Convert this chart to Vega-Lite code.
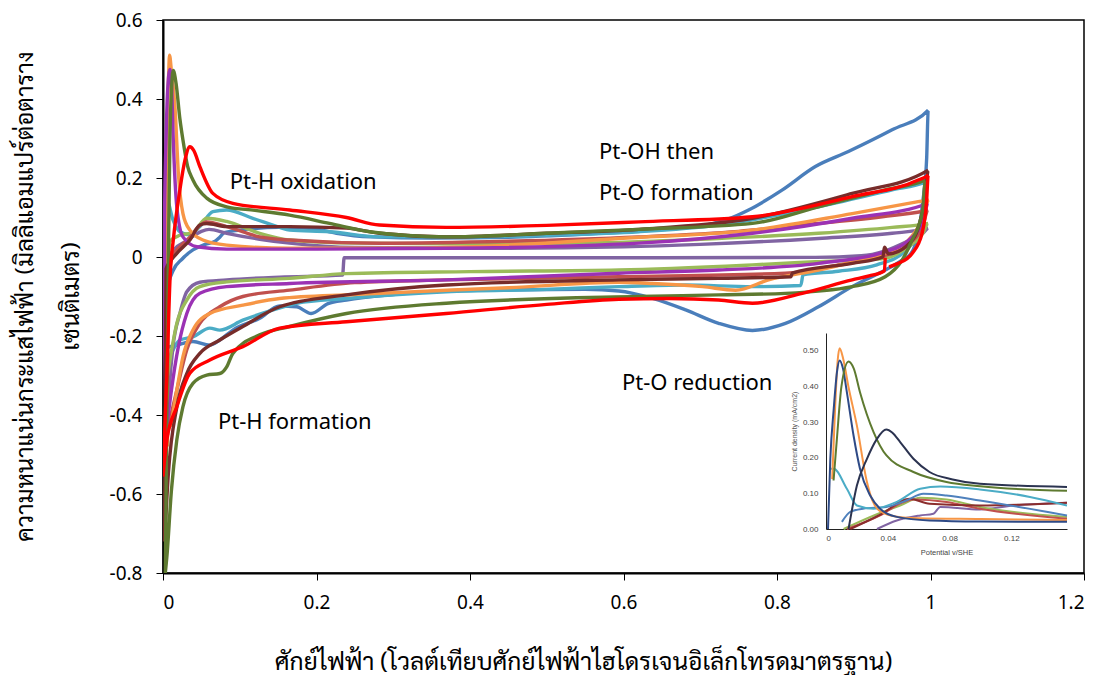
{
  "$schema": "https://vega.github.io/schema/vega-lite/v6.json",
  "width": 921,
  "height": 553,
  "autosize": {"type": "none"},
  "padding": {"left": 163, "top": 20, "right": 21, "bottom": 102},
  "background": "white",
  "config": {"view": {"stroke": "black", "strokeWidth": 1.5}, "axis": {"grid": false}},
  "datasets": {
    "main": [
      {"s":"blue","x":0.0,"y":-0.23},{"s":"blue","x":0.002,"y":-0.15},{"s":"blue","x":0.006,"y":-0.08},{"s":"blue","x":0.013,"y":-0.035},{"s":"blue","x":0.025,"y":-0.005},{"s":"blue","x":0.039,"y":0.018},{"s":"blue","x":0.055,"y":0.032},{"s":"blue","x":0.068,"y":0.04},{"s":"blue","x":0.074,"y":0.05},{"s":"blue","x":0.08,"y":0.062},{"s":"blue","x":0.1,"y":0.068},{"s":"blue","x":0.152,"y":0.075},{"s":"blue","x":0.195,"y":0.072},{"s":"blue","x":0.226,"y":0.06},{"s":"blue","x":0.27,"y":0.051},{"s":"blue","x":0.35,"y":0.048},{"s":"blue","x":0.45,"y":0.05},{"s":"blue","x":0.55,"y":0.058},{"s":"blue","x":0.62,"y":0.066},{"s":"blue","x":0.7,"y":0.078},{"s":"blue","x":0.735,"y":0.095},{"s":"blue","x":0.763,"y":0.119},{"s":"blue","x":0.807,"y":0.17},{"s":"blue","x":0.85,"y":0.229},{"s":"blue","x":0.893,"y":0.267},{"s":"blue","x":0.95,"y":0.322},{"s":"blue","x":0.997,"y":0.372},{"s":"blue","x":0.995,"y":0.25},{"s":"blue","x":0.99,"y":0.14},{"s":"blue","x":0.984,"y":0.06},{"s":"blue","x":0.975,"y":0.01},{"s":"blue","x":0.96,"y":-0.012},{"s":"blue","x":0.941,"y":-0.033},{"s":"blue","x":0.898,"y":-0.075},{"s":"blue","x":0.854,"y":-0.126},{"s":"blue","x":0.811,"y":-0.168},{"s":"blue","x":0.768,"y":-0.186},{"s":"blue","x":0.724,"y":-0.168},{"s":"blue","x":0.681,"y":-0.134},{"s":"blue","x":0.638,"y":-0.105},{"s":"blue","x":0.594,"y":-0.086},{"s":"blue","x":0.55,"y":-0.082},{"s":"blue","x":0.45,"y":-0.083},{"s":"blue","x":0.369,"y":-0.085},{"s":"blue","x":0.3,"y":-0.095},{"s":"blue","x":0.239,"y":-0.109},{"s":"blue","x":0.215,"y":-0.118},{"s":"blue","x":0.193,"y":-0.143},{"s":"blue","x":0.174,"y":-0.126},{"s":"blue","x":0.152,"y":-0.124},{"s":"blue","x":0.126,"y":-0.155},{"s":"blue","x":0.091,"y":-0.185},{"s":"blue","x":0.074,"y":-0.21},{"s":"blue","x":0.061,"y":-0.223},{"s":"blue","x":0.039,"y":-0.214},{"s":"blue","x":0.018,"y":-0.223},{"s":"blue","x":0.0,"y":-0.231},

      {"s":"cyan","x":0.004,"y":-0.28},{"s":"cyan","x":0.002,"y":-0.05},{"s":"cyan","x":0.003,"y":0.1},{"s":"cyan","x":0.005,"y":0.144},{"s":"cyan","x":0.013,"y":0.094},{"s":"cyan","x":0.022,"y":0.064},{"s":"cyan","x":0.035,"y":0.056},{"s":"cyan","x":0.048,"y":0.077},{"s":"cyan","x":0.065,"y":0.115},{"s":"cyan","x":0.083,"y":0.119},{"s":"cyan","x":0.117,"y":0.098},{"s":"cyan","x":0.152,"y":0.075},{"s":"cyan","x":0.165,"y":0.068},{"s":"cyan","x":0.217,"y":0.064},{"s":"cyan","x":0.282,"y":0.051},{"s":"cyan","x":0.412,"y":0.051},{"s":"cyan","x":0.5,"y":0.055},{"s":"cyan","x":0.62,"y":0.064},{"s":"cyan","x":0.724,"y":0.081},{"s":"cyan","x":0.854,"y":0.127},{"s":"cyan","x":0.95,"y":0.17},{"s":"cyan","x":0.993,"y":0.19},{"s":"cyan","x":0.99,"y":0.1},{"s":"cyan","x":0.97,"y":0.02},{"s":"cyan","x":0.93,"y":-0.02},{"s":"cyan","x":0.88,"y":-0.036},{"s":"cyan","x":0.834,"y":-0.045},{"s":"cyan","x":0.831,"y":-0.072},{"s":"cyan","x":0.768,"y":-0.075},{"s":"cyan","x":0.681,"y":-0.071},{"s":"cyan","x":0.594,"y":-0.075},{"s":"cyan","x":0.5,"y":-0.082},{"s":"cyan","x":0.369,"y":-0.088},{"s":"cyan","x":0.239,"y":-0.105},{"s":"cyan","x":0.174,"y":-0.117},{"s":"cyan","x":0.165,"y":-0.122},{"s":"cyan","x":0.104,"y":-0.16},{"s":"cyan","x":0.074,"y":-0.185},{"s":"cyan","x":0.061,"y":-0.18},{"s":"cyan","x":0.039,"y":-0.202},{"s":"cyan","x":0.022,"y":-0.21},{"s":"cyan","x":0.012,"y":-0.24},{"s":"cyan","x":0.006,"y":-0.27},

      {"s":"lavender","x":0.006,"y":-0.4},{"s":"lavender","x":0.005,"y":-0.1},{"s":"lavender","x":0.008,"y":0.0},{"s":"lavender","x":0.015,"y":0.02},{"s":"lavender","x":0.03,"y":0.04},{"s":"lavender","x":0.05,"y":0.065},{"s":"lavender","x":0.06,"y":0.07},{"s":"lavender","x":0.083,"y":0.06},{"s":"lavender","x":0.126,"y":0.045},{"s":"lavender","x":0.165,"y":0.035},{"s":"lavender","x":0.25,"y":0.024},{"s":"lavender","x":0.4,"y":0.022},{"s":"lavender","x":0.6,"y":0.026},{"s":"lavender","x":0.7,"y":0.032},{"s":"lavender","x":0.854,"y":0.047},{"s":"lavender","x":0.95,"y":0.06},{"s":"lavender","x":0.997,"y":0.073},{"s":"lavender","x":0.99,"y":0.06},{"s":"lavender","x":0.97,"y":0.04},{"s":"lavender","x":0.94,"y":0.015},{"s":"lavender","x":0.91,"y":0.003},{"s":"lavender","x":0.85,"y":-0.001},{"s":"lavender","x":0.5,"y":-0.002},{"s":"lavender","x":0.236,"y":-0.002},{"s":"lavender","x":0.234,"y":-0.046},{"s":"lavender","x":0.152,"y":-0.051},{"s":"lavender","x":0.083,"y":-0.058},{"s":"lavender","x":0.048,"y":-0.064},{"s":"lavender","x":0.031,"y":-0.088},{"s":"lavender","x":0.022,"y":-0.143},{"s":"lavender","x":0.013,"y":-0.227},{"s":"lavender","x":0.008,"y":-0.337},{"s":"lavender","x":0.006,"y":-0.4},

      {"s":"lightgreen","x":0.006,"y":-0.3},{"s":"lightgreen","x":0.005,"y":-0.05},{"s":"lightgreen","x":0.009,"y":0.04},{"s":"lightgreen","x":0.022,"y":0.055},{"s":"lightgreen","x":0.039,"y":0.062},{"s":"lightgreen","x":0.057,"y":0.098},{"s":"lightgreen","x":0.083,"y":0.09},{"s":"lightgreen","x":0.126,"y":0.06},{"s":"lightgreen","x":0.165,"y":0.043},{"s":"lightgreen","x":0.25,"y":0.035},{"s":"lightgreen","x":0.4,"y":0.033},{"s":"lightgreen","x":0.594,"y":0.037},{"s":"lightgreen","x":0.7,"y":0.045},{"s":"lightgreen","x":0.854,"y":0.06},{"s":"lightgreen","x":0.95,"y":0.075},{"s":"lightgreen","x":0.997,"y":0.085},{"s":"lightgreen","x":0.99,"y":0.06},{"s":"lightgreen","x":0.97,"y":0.025},{"s":"lightgreen","x":0.941,"y":-0.003},{"s":"lightgreen","x":0.85,"y":-0.012},{"s":"lightgreen","x":0.768,"y":-0.02},{"s":"lightgreen","x":0.594,"y":-0.033},{"s":"lightgreen","x":0.4,"y":-0.037},{"s":"lightgreen","x":0.239,"y":-0.042},{"s":"lightgreen","x":0.165,"y":-0.054},{"s":"lightgreen","x":0.083,"y":-0.063},{"s":"lightgreen","x":0.048,"y":-0.075},{"s":"lightgreen","x":0.031,"y":-0.109},{"s":"lightgreen","x":0.018,"y":-0.168},{"s":"lightgreen","x":0.01,"y":-0.25},{"s":"lightgreen","x":0.006,"y":-0.3},

      {"s":"redbrown","x":0.006,"y":-0.45},{"s":"redbrown","x":0.006,"y":-0.1},{"s":"redbrown","x":0.012,"y":0.0},{"s":"redbrown","x":0.022,"y":0.026},{"s":"redbrown","x":0.035,"y":0.05},{"s":"redbrown","x":0.048,"y":0.08},{"s":"redbrown","x":0.057,"y":0.089},{"s":"redbrown","x":0.083,"y":0.077},{"s":"redbrown","x":0.126,"y":0.051},{"s":"redbrown","x":0.165,"y":0.043},{"s":"redbrown","x":0.282,"y":0.035},{"s":"redbrown","x":0.45,"y":0.04},{"s":"redbrown","x":0.62,"y":0.051},{"s":"redbrown","x":0.75,"y":0.065},{"s":"redbrown","x":0.854,"y":0.085},{"s":"redbrown","x":0.95,"y":0.105},{"s":"redbrown","x":0.997,"y":0.119},{"s":"redbrown","x":0.99,"y":0.08},{"s":"redbrown","x":0.97,"y":0.03},{"s":"redbrown","x":0.941,"y":0.004},{"s":"redbrown","x":0.88,"y":-0.02},{"s":"redbrown","x":0.811,"y":-0.041},{"s":"redbrown","x":0.594,"y":-0.05},{"s":"redbrown","x":0.369,"y":-0.058},{"s":"redbrown","x":0.25,"y":-0.065},{"s":"redbrown","x":0.165,"y":-0.084},{"s":"redbrown","x":0.104,"y":-0.1},{"s":"redbrown","x":0.074,"y":-0.126},{"s":"redbrown","x":0.048,"y":-0.168},{"s":"redbrown","x":0.031,"y":-0.235},{"s":"redbrown","x":0.018,"y":-0.337},{"s":"redbrown","x":0.008,"y":-0.42},

      {"s":"orange","x":0.006,"y":-0.48},{"s":"orange","x":0.005,"y":-0.2},{"s":"orange","x":0.005,"y":0.15},{"s":"orange","x":0.006,"y":0.35},{"s":"orange","x":0.0075,"y":0.47},{"s":"orange","x":0.0085,"y":0.511},{"s":"orange","x":0.011,"y":0.47},{"s":"orange","x":0.0156,"y":0.38},{"s":"orange","x":0.02,"y":0.212},{"s":"orange","x":0.026,"y":0.11},{"s":"orange","x":0.035,"y":0.068},{"s":"orange","x":0.052,"y":0.043},{"s":"orange","x":0.083,"y":0.03},{"s":"orange","x":0.165,"y":0.022},{"s":"orange","x":0.3,"y":0.022},{"s":"orange","x":0.45,"y":0.03},{"s":"orange","x":0.594,"y":0.047},{"s":"orange","x":0.768,"y":0.068},{"s":"orange","x":0.898,"y":0.11},{"s":"orange","x":0.984,"y":0.14},{"s":"orange","x":0.998,"y":0.145},{"s":"orange","x":0.99,"y":0.1},{"s":"orange","x":0.97,"y":0.04},{"s":"orange","x":0.941,"y":0.01},{"s":"orange","x":0.9,"y":-0.012},{"s":"orange","x":0.854,"y":-0.033},{"s":"orange","x":0.789,"y":-0.058},{"s":"orange","x":0.746,"y":-0.084},{"s":"orange","x":0.703,"y":-0.075},{"s":"orange","x":0.638,"y":-0.067},{"s":"orange","x":0.594,"y":-0.064},{"s":"orange","x":0.45,"y":-0.078},{"s":"orange","x":0.369,"y":-0.084},{"s":"orange","x":0.25,"y":-0.095},{"s":"orange","x":0.152,"y":-0.105},{"s":"orange","x":0.104,"y":-0.122},{"s":"orange","x":0.061,"y":-0.143},{"s":"orange","x":0.039,"y":-0.185},{"s":"orange","x":0.026,"y":-0.252},{"s":"orange","x":0.018,"y":-0.337},{"s":"orange","x":0.01,"y":-0.43},

      {"s":"magenta","x":0.005,"y":-0.43},{"s":"magenta","x":0.002,"y":-0.2},{"s":"magenta","x":0.002,"y":0.1},{"s":"magenta","x":0.004,"y":0.3},{"s":"magenta","x":0.006,"y":0.42},{"s":"magenta","x":0.009,"y":0.475},{"s":"magenta","x":0.011,"y":0.44},{"s":"magenta","x":0.0134,"y":0.296},{"s":"magenta","x":0.018,"y":0.127},{"s":"magenta","x":0.026,"y":0.051},{"s":"magenta","x":0.044,"y":0.026},{"s":"magenta","x":0.083,"y":0.02},{"s":"magenta","x":0.165,"y":0.02},{"s":"magenta","x":0.369,"y":0.022},{"s":"magenta","x":0.62,"y":0.035},{"s":"magenta","x":0.768,"y":0.06},{"s":"magenta","x":0.898,"y":0.098},{"s":"magenta","x":0.997,"y":0.136},{"s":"magenta","x":0.99,"y":0.09},{"s":"magenta","x":0.97,"y":0.04},{"s":"magenta","x":0.941,"y":0.013},{"s":"magenta","x":0.854,"y":-0.016},{"s":"magenta","x":0.724,"y":-0.033},{"s":"magenta","x":0.594,"y":-0.041},{"s":"magenta","x":0.369,"y":-0.058},{"s":"magenta","x":0.165,"y":-0.067},{"s":"magenta","x":0.083,"y":-0.075},{"s":"magenta","x":0.048,"y":-0.092},{"s":"magenta","x":0.031,"y":-0.143},{"s":"magenta","x":0.02,"y":-0.227},{"s":"magenta","x":0.011,"y":-0.337},{"s":"magenta","x":0.005,"y":-0.43},

      {"s":"darkbrown","x":0.002,"y":-0.72},{"s":"darkbrown","x":0.003,"y":-0.3},{"s":"darkbrown","x":0.004,"y":-0.03},{"s":"darkbrown","x":0.018,"y":0.009},{"s":"darkbrown","x":0.035,"y":0.043},{"s":"darkbrown","x":0.048,"y":0.081},{"s":"darkbrown","x":0.057,"y":0.085},{"s":"darkbrown","x":0.083,"y":0.077},{"s":"darkbrown","x":0.165,"y":0.077},{"s":"darkbrown","x":0.239,"y":0.073},{"s":"darkbrown","x":0.282,"y":0.06},{"s":"darkbrown","x":0.369,"y":0.051},{"s":"darkbrown","x":0.5,"y":0.06},{"s":"darkbrown","x":0.62,"y":0.07},{"s":"darkbrown","x":0.768,"y":0.098},{"s":"darkbrown","x":0.898,"y":0.161},{"s":"darkbrown","x":0.997,"y":0.22},{"s":"darkbrown","x":0.993,"y":0.15},{"s":"darkbrown","x":0.985,"y":0.08},{"s":"darkbrown","x":0.97,"y":0.03},{"s":"darkbrown","x":0.945,"y":0.008},{"s":"darkbrown","x":0.94,"y":0.025},{"s":"darkbrown","x":0.938,"y":0.0},{"s":"darkbrown","x":0.898,"y":-0.016},{"s":"darkbrown","x":0.82,"y":-0.041},{"s":"darkbrown","x":0.818,"y":-0.05},{"s":"darkbrown","x":0.724,"y":-0.054},{"s":"darkbrown","x":0.594,"y":-0.058},{"s":"darkbrown","x":0.369,"y":-0.071},{"s":"darkbrown","x":0.239,"y":-0.096},{"s":"darkbrown","x":0.152,"y":-0.126},{"s":"darkbrown","x":0.104,"y":-0.176},{"s":"darkbrown","x":0.074,"y":-0.21},{"s":"darkbrown","x":0.048,"y":-0.244},{"s":"darkbrown","x":0.031,"y":-0.295},{"s":"darkbrown","x":0.018,"y":-0.38},{"s":"darkbrown","x":0.007,"y":-0.548},{"s":"darkbrown","x":0.002,"y":-0.72},

      {"s":"green","x":0.003,"y":-0.8},{"s":"green","x":0.005,"y":-0.4},{"s":"green","x":0.007,"y":0.0},{"s":"green","x":0.009,"y":0.3},{"s":"green","x":0.011,"y":0.42},{"s":"green","x":0.0134,"y":0.472},{"s":"green","x":0.017,"y":0.44},{"s":"green","x":0.022,"y":0.35},{"s":"green","x":0.026,"y":0.296},{"s":"green","x":0.032,"y":0.23},{"s":"green","x":0.039,"y":0.195},{"s":"green","x":0.057,"y":0.149},{"s":"green","x":0.083,"y":0.127},{"s":"green","x":0.12,"y":0.118},{"s":"green","x":0.165,"y":0.106},{"s":"green","x":0.217,"y":0.085},{"s":"green","x":0.269,"y":0.064},{"s":"green","x":0.369,"y":0.051},{"s":"green","x":0.499,"y":0.06},{"s":"green","x":0.62,"y":0.07},{"s":"green","x":0.768,"y":0.085},{"s":"green","x":0.854,"y":0.127},{"s":"green","x":0.941,"y":0.17},{"s":"green","x":0.993,"y":0.195},{"s":"green","x":0.99,"y":0.12},{"s":"green","x":0.976,"y":0.043},{"s":"green","x":0.963,"y":-0.008},{"s":"green","x":0.941,"y":-0.05},{"s":"green","x":0.898,"y":-0.075},{"s":"green","x":0.811,"y":-0.092},{"s":"green","x":0.724,"y":-0.096},{"s":"green","x":0.62,"y":-0.1},{"s":"green","x":0.369,"y":-0.117},{"s":"green","x":0.239,"y":-0.143},{"s":"green","x":0.165,"y":-0.176},{"s":"green","x":0.126,"y":-0.197},{"s":"green","x":0.091,"y":-0.244},{"s":"green","x":0.083,"y":-0.278},{"s":"green","x":0.074,"y":-0.295},{"s":"green","x":0.057,"y":-0.299},{"s":"green","x":0.039,"y":-0.32},{"s":"green","x":0.026,"y":-0.379},{"s":"green","x":0.018,"y":-0.463},{"s":"green","x":0.011,"y":-0.59},{"s":"green","x":0.005,"y":-0.76},{"s":"green","x":0.003,"y":-0.8},

      {"s":"red","x":0.0,"y":-0.556},{"s":"red","x":0.005,"y":-0.3},{"s":"red","x":0.0095,"y":-0.04},{"s":"red","x":0.0134,"y":0.043},{"s":"red","x":0.022,"y":0.17},{"s":"red","x":0.0286,"y":0.245},{"s":"red","x":0.035,"y":0.279},{"s":"red","x":0.04,"y":0.27},{"s":"red","x":0.048,"y":0.229},{"s":"red","x":0.065,"y":0.161},{"s":"red","x":0.091,"y":0.136},{"s":"red","x":0.165,"y":0.119},{"s":"red","x":0.239,"y":0.1},{"s":"red","x":0.282,"y":0.081},{"s":"red","x":0.369,"y":0.075},{"s":"red","x":0.5,"y":0.08},{"s":"red","x":0.62,"y":0.089},{"s":"red","x":0.768,"y":0.102},{"s":"red","x":0.898,"y":0.153},{"s":"red","x":0.984,"y":0.195},{"s":"red","x":0.997,"y":0.208},{"s":"red","x":0.995,"y":0.144},{"s":"red","x":0.989,"y":0.06},{"s":"red","x":0.976,"y":0.009},{"s":"red","x":0.958,"y":-0.016},{"s":"red","x":0.946,"y":-0.025},{"s":"red","x":0.944,"y":null},{"s":"red","x":0.941,"y":-0.002},{"s":"red","x":0.94,"y":-0.035},{"s":"red","x":0.92,"y":-0.048},{"s":"red","x":0.898,"y":-0.058},{"s":"red","x":0.833,"y":-0.092},{"s":"red","x":0.768,"y":-0.117},{"s":"red","x":0.724,"y":-0.109},{"s":"red","x":0.659,"y":-0.105},{"s":"red","x":0.594,"y":-0.107},{"s":"red","x":0.5,"y":-0.12},{"s":"red","x":0.369,"y":-0.143},{"s":"red","x":0.239,"y":-0.164},{"s":"red","x":0.152,"y":-0.18},{"s":"red","x":0.104,"y":-0.227},{"s":"red","x":0.061,"y":-0.261},{"s":"red","x":0.035,"y":-0.294},{"s":"red","x":0.018,"y":-0.379},{"s":"red","x":0.005,"y":-0.463},{"s":"red","x":0.0,"y":-0.556}
    ],
    "notes": [
      {"t":"Pt-H oxidation","x":0.087,"y":0.19},
      {"t":"Pt-OH then","x":0.568,"y":0.266},
      {"t":"Pt-O formation","x":0.568,"y":0.162},
      {"t":"Pt-O reduction","x":0.598,"y":-0.319},
      {"t":"Pt-H formation","x":0.0715,"y":-0.418}
    ],
    "inset": [
      {"s":"lavender","x":0.033,"y":0.0},{"s":"lavender","x":0.0458,"y":0.024},{"s":"lavender","x":0.061,"y":0.038},{"s":"lavender","x":0.0695,"y":0.043},{"s":"lavender","x":0.074,"y":0.062},{"s":"lavender","x":0.0996,"y":0.055},{"s":"lavender","x":0.121,"y":0.066},{"s":"lavender","x":0.156,"y":0.074},
      {"s":"lgreen","x":0.0114,"y":0.0},{"s":"lgreen","x":0.031,"y":0.038},{"s":"lgreen","x":0.048,"y":0.066},{"s":"lgreen","x":0.061,"y":0.088},{"s":"lgreen","x":0.078,"y":0.083},{"s":"lgreen","x":0.0996,"y":0.062},{"s":"lgreen","x":0.156,"y":0.034},
      {"s":"redbrown","x":0.0135,"y":0.0},{"s":"redbrown","x":0.035,"y":0.038},{"s":"redbrown","x":0.048,"y":0.071},{"s":"redbrown","x":0.0566,"y":0.083},{"s":"redbrown","x":0.078,"y":0.076},{"s":"redbrown","x":0.0996,"y":0.057},{"s":"redbrown","x":0.156,"y":0.029},
      {"s":"darkred","x":0.0157,"y":0.0},{"s":"darkred","x":0.035,"y":0.04},{"s":"darkred","x":0.054,"y":0.085},{"s":"darkred","x":0.067,"y":0.071},{"s":"darkred","x":0.0996,"y":0.066},{"s":"darkred","x":0.156,"y":0.074},
      {"s":"blue","x":0.0103,"y":0.02},{"s":"blue","x":0.0157,"y":0.048},{"s":"blue","x":0.024,"y":0.057},{"s":"blue","x":0.039,"y":0.062},{"s":"blue","x":0.052,"y":0.08},{"s":"blue","x":0.063,"y":0.099},{"s":"blue","x":0.078,"y":0.094},{"s":"blue","x":0.0996,"y":0.08},{"s":"blue","x":0.156,"y":0.038},
      {"s":"teal","x":0.0024,"y":0.169},{"s":"teal","x":0.005,"y":0.169},{"s":"teal","x":0.0135,"y":0.113},{"s":"teal","x":0.02,"y":0.066},{"s":"teal","x":0.0308,"y":0.057},{"s":"teal","x":0.0458,"y":0.076},{"s":"teal","x":0.061,"y":0.113},{"s":"teal","x":0.074,"y":0.119},{"s":"teal","x":0.0996,"y":0.111},{"s":"teal","x":0.132,"y":0.09},{"s":"teal","x":0.156,"y":0.066},
      {"s":"orange","x":0.004,"y":0.14},{"s":"orange","x":0.006,"y":0.35},{"s":"orange","x":0.0075,"y":0.47},{"s":"orange","x":0.0088,"y":0.507},{"s":"orange","x":0.011,"y":0.48},{"s":"orange","x":0.0145,"y":0.4},{"s":"orange","x":0.02,"y":0.29},{"s":"orange","x":0.0265,"y":0.132},{"s":"orange","x":0.03,"y":0.08},{"s":"orange","x":0.035,"y":0.05},{"s":"orange","x":0.045,"y":0.035},{"s":"orange","x":0.06,"y":0.03},{"s":"orange","x":0.1,"y":0.028},{"s":"orange","x":0.156,"y":0.025},
      {"s":"navy","x":0.0013,"y":0.0},{"s":"navy","x":0.0028,"y":0.197},{"s":"navy","x":0.005,"y":0.337},{"s":"navy","x":0.0071,"y":0.44},{"s":"navy","x":0.0088,"y":0.473},{"s":"navy","x":0.011,"y":0.45},{"s":"navy","x":0.0135,"y":0.384},{"s":"navy","x":0.0178,"y":0.263},{"s":"navy","x":0.022,"y":0.169},{"s":"navy","x":0.0286,"y":0.094},{"s":"navy","x":0.035,"y":0.057},{"s":"navy","x":0.0458,"y":0.034},{"s":"navy","x":0.067,"y":0.024},{"s":"navy","x":0.1,"y":0.021},{"s":"navy","x":0.156,"y":0.02},
      {"s":"green","x":0.0049,"y":0.136},{"s":"green","x":0.007,"y":0.25},{"s":"green","x":0.01,"y":0.4},{"s":"green","x":0.0146,"y":0.47},{"s":"green","x":0.018,"y":0.45},{"s":"green","x":0.022,"y":0.384},{"s":"green","x":0.0308,"y":0.272},{"s":"green","x":0.039,"y":0.207},{"s":"green","x":0.0566,"y":0.16},{"s":"green","x":0.078,"y":0.132},{"s":"green","x":0.1,"y":0.12},{"s":"green","x":0.156,"y":0.107},
      {"s":"dark","x":0.0146,"y":0.0},{"s":"dark","x":0.02,"y":0.122},{"s":"dark","x":0.0265,"y":0.197},{"s":"dark","x":0.033,"y":0.253},{"s":"dark","x":0.039,"y":0.279},{"s":"dark","x":0.043,"y":0.27},{"s":"dark","x":0.048,"y":0.244},{"s":"dark","x":0.0566,"y":0.197},{"s":"dark","x":0.067,"y":0.16},{"s":"dark","x":0.082,"y":0.139},{"s":"dark","x":0.0996,"y":0.127},{"s":"dark","x":0.156,"y":0.118}
    ]
  },
  "layer": [
    {
      "layer": [
        {
          "data": {"name": "main"},
          "mark": {"type": "line", "strokeWidth": 3.4, "interpolate": "monotone", "clip": true},
          "encoding": {
            "x": {"field": "x", "type": "quantitative",
              "scale": {"domain": [0, 1.2], "nice": false, "zero": false},
              "axis": {"values": [0, 0.2, 0.4, 0.6, 0.8, 1, 1.2], "format": "~g", "labelFont": "Noto Sans", "labelFontSize": 19, "labelColor": "black", "labelPadding": 13, "tickSize": 7, "tickColor": "black", "domainColor": "black", "domainWidth": 2, "title": "ศักย์ไฟฟ้า (โวลต์เทียบศักย์ไฟฟ้าไฮโดรเจนอิเล็กโทรดมาตรฐาน)", "titleFont": "Laksaman, Kinnari, Norasi, Sarabun, Garuda, Loma, sans-serif", "titleFontSize": 24.5, "titleFontWeight": "normal", "titleColor": "black", "titleX": 420, "titleY": 96, "titleAlign": "center", "titleBaseline": "alphabetic"}},
            "y": {"field": "y", "type": "quantitative",
              "scale": {"domain": [-0.8, 0.6], "nice": false, "zero": false},
              "axis": {"values": [-0.8, -0.6, -0.4, -0.2, 0, 0.2, 0.4, 0.6], "labelExpr": "datum.value == 0 ? '0' : (datum.value < 0 ? '-' + format(-datum.value, '.1f') : format(datum.value, '.1f'))", "labelFont": "Noto Sans", "labelFontSize": 19, "labelColor": "black", "labelPadding": 14, "tickSize": 7, "tickColor": "black", "domainColor": "black", "domainWidth": 2, "title": ["ความหนาแน่นกระแสไฟฟ้า (มิลลิแอมแปร์ต่อตาราง", "เซนติเมตร)"], "titleFont": "Laksaman, Kinnari, Norasi, Sarabun, Garuda, Loma, sans-serif", "titleFontSize": 24, "titleFontWeight": "normal", "titleColor": "black", "titleAngle": -90, "titleX": -150, "titleY": 276, "titleAlign": "center", "titleBaseline": "top", "titleLineHeight": 46}},
            "color": {"field": "s", "type": "nominal", "legend": null,
              "scale": {"domain": ["blue", "cyan", "lavender", "lightgreen", "redbrown", "orange", "magenta", "darkbrown", "green", "red"],
                        "range": ["#4A7EBB", "#4BACC6", "#8064A2", "#9BBB59", "#C0504D", "#F79646", "#9B32B4", "#772C2A", "#5E7A30", "#FF0000"]}},
            "order": {"value": null}
          }
        },
        {
          "data": {"name": "notes"},
          "mark": {"type": "text", "align": "left", "baseline": "middle", "font": "Noto Sans", "fontSize": 22, "color": "black"},
          "encoding": {
            "x": {"field": "x", "type": "quantitative"},
            "y": {"field": "y", "type": "quantitative"},
            "text": {"field": "t"}
          }
        }
      ]
    },
    {
      "layer": [
        {
          "mark": {"type": "rect", "fill": "white", "stroke": "#222", "strokeWidth": 1},
          "encoding": {
            "x": {"datum": 0, "type": "quantitative",
              "scale": {"domain": [0, 0.156], "range": [663, 904], "nice": false, "zero": false},
              "axis": {"orient": "bottom", "offset": -44, "values": [0, 0.04, 0.08, 0.12], "labelExpr": "datum.value == 0 ? '0' : format(datum.value, '.2f')", "labelFont": "Liberation Sans", "labelFontSize": 8, "labelColor": "#444", "ticks": false, "labelPadding": 5, "domainColor": "#222", "domainWidth": 1, "title": "Potential v/SHE", "titleFont": "Liberation Sans", "titleFontSize": 7.5, "titleFontWeight": "normal", "titleColor": "#444", "titlePadding": 6}},
            "x2": {"datum": 0.156},
            "y": {"datum": 0, "type": "quantitative",
              "scale": {"domain": [0, 0.55], "range": [509, 313], "nice": false, "zero": false},
              "axis": {"orient": "left", "offset": -663, "values": [0, 0.1, 0.2, 0.3, 0.4, 0.5], "format": ".2f", "labelFont": "Liberation Sans", "labelFontSize": 8, "labelColor": "#444", "ticks": false, "labelPadding": 8, "domainColor": "#222", "domainWidth": 1, "title": "Current density (mA/cm2)", "titleFont": "Liberation Sans", "titleFontSize": 7, "titleFontWeight": "normal", "titleColor": "#555", "titlePadding": 5}},
            "y2": {"datum": 0.55}
          }
        },
        {
          "data": {"name": "inset"},
          "mark": {"type": "line", "strokeWidth": 2, "interpolate": "monotone", "clip": true},
          "encoding": {
            "x": {"field": "x", "type": "quantitative"},
            "y": {"field": "y", "type": "quantitative"},
            "color": {"field": "s", "type": "nominal", "legend": null,
              "scale": {"domain": ["lavender", "lgreen", "redbrown", "darkred", "blue", "teal", "orange", "navy", "green", "dark"],
                        "range": ["#8064A2", "#9BBB59", "#C0504D", "#8B2D2D", "#4F81BD", "#4BACC6", "#F79646", "#2E4A86", "#5E7A30", "#2B3350"]}},
            "order": {"value": null}
          }
        }
      ]
    }
  ],
  "resolve": {"scale": {"x": "independent", "y": "independent", "color": "independent"}, "axis": {"x": "independent", "y": "independent"}}
}
